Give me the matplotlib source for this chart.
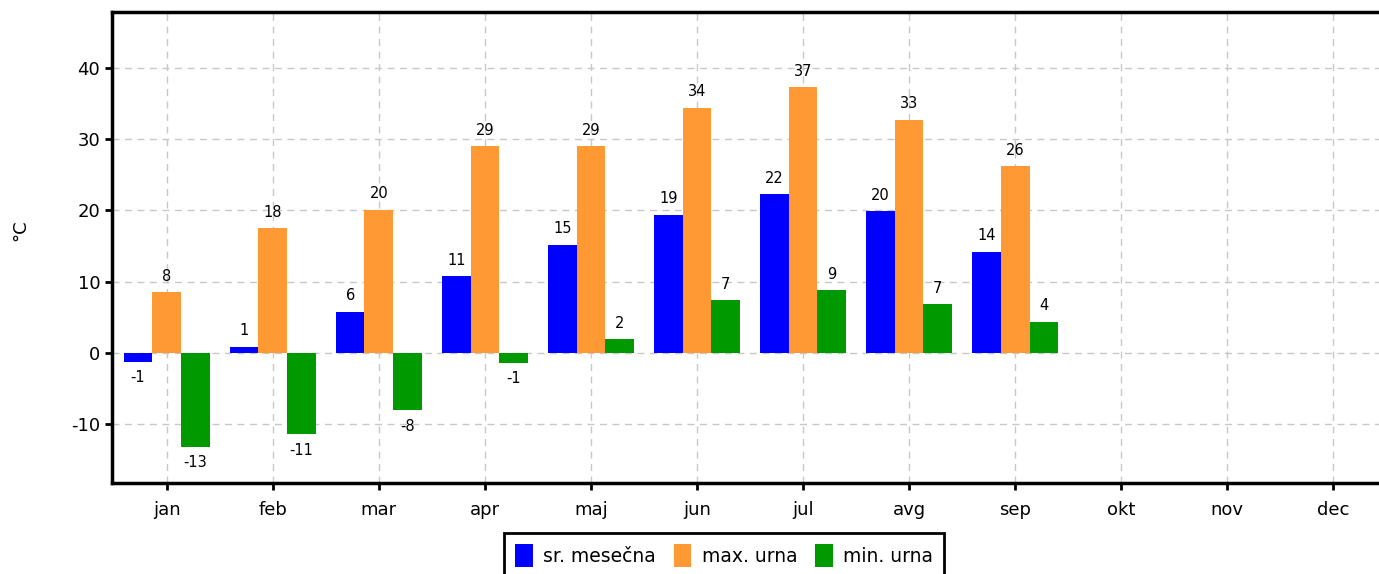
#!/usr/bin/env python3

import numpy as np
import matplotlib
matplotlib.use("Agg")
import matplotlib.pyplot as plt

plt.rcParams["axes.unicode_minus"] = False

# Monthly temperature data (°C)
months = ["jan", "feb", "mar", "apr", "maj", "jun", "jul", "avg", "sep", "okt", "nov", "dec"]
avg_month = [-1.2, 0.9, 5.8, 10.8, 15.2, 19.4, 22.3, 19.9, 14.2]
max_hour = [8.5, 17.5, 20.1, 29.0, 29.0, 34.4, 37.3, 32.7, 26.2]
min_hour = [-13.1, -11.4, -8.0, -1.4, 2.0, 7.4, 8.8, 6.9, 4.4]

series_names = ["sr. mesečna", "max. urna", "min. urna"]
colors = ["#0000ff", "#ff9933", "#009900"]

W, H = 1379, 574
fig = plt.figure(figsize=(W / 100, H / 100), dpi=100)
ax = fig.add_axes([112 / W, 1 - 483 / H, (W - 112) / W, (483 - 12) / H])

x = np.arange(len(months))
width = 0.27
offsets = [-width, 0, width]

for vals, off, col, name in zip([avg_month, max_hour, min_hour], offsets, colors, series_names):
    xs = x[:len(vals)] + off
    ax.bar(xs, vals, width, color=col, label=name, zorder=3)
    for xi, v in zip(xs, vals):
        if v >= 0:
            ax.annotate(f"{round(v):d}", (xi, v), xytext=(0, 6), textcoords="offset points",
                        ha="center", va="bottom", fontsize=10.5)
        else:
            ax.annotate(f"{round(v):d}", (xi, v), xytext=(0, -6), textcoords="offset points",
                        ha="center", va="top", fontsize=10.5)

ax.set_xlim(-0.515, 11.43)
ax.set_ylim(-18.2, 47.8)
ax.set_xticks(x)
ax.set_xticklabels(months)
ax.set_yticks([-10, 0, 10, 20, 30, 40])
ax.tick_params(axis="both", labelsize=13, width=2, length=5, color="black")
ax.tick_params(axis="x", pad=8)

ax.grid(True, color="#c8c8c8", linestyle=(0, (5, 4)), linewidth=1, zorder=0)
ax.set_axisbelow(True)

for side in ["left", "top", "bottom"]:
    ax.spines[side].set_linewidth(2.5)
    ax.spines[side].set_color("black")
ax.spines["right"].set_visible(False)

fig.text(20 / W, 1 - 230 / H, "°C", rotation=90, ha="center", va="center", fontsize=13)

leg = fig.legend(loc="upper center", bbox_to_anchor=(724 / W, 1 - 533 / H), ncol=3,
                 fontsize=13.5, frameon=True, fancybox=False, framealpha=1,
                 handlelength=0.95, handleheight=1.5, handletextpad=0.55,
                 columnspacing=0.95, borderpad=0.6, borderaxespad=0)
leg.get_frame().set_edgecolor("black")
leg.get_frame().set_linewidth(2)

fig.savefig("out.png", dpi=100)
